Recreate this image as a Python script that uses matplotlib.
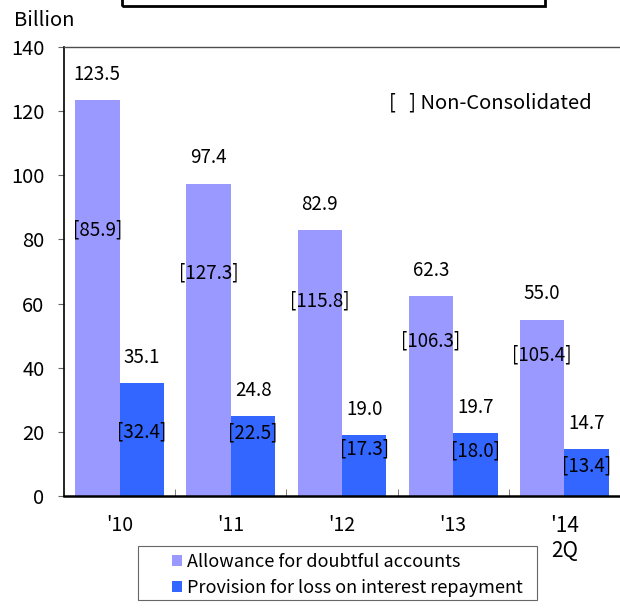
import matplotlib

matplotlib.use("Agg")

import matplotlib.pyplot as plt
from matplotlib.patches import Rectangle
import numpy as np

plt.rcParams["font.family"] = ["Noto Sans CJK JP", "DejaVu Sans"]

# 数据：合并口径与单体口径（括号内）
years = ["'10", "'11", "'12", "'13", "'14\n2Q"]
allowance = [123.5, 97.4, 82.9, 62.3, 55.0]
provision = [35.1, 24.8, 19.0, 19.7, 14.7]
allowance_nc = [85.9, 127.3, 115.8, 106.3, 105.4]
provision_nc = [32.4, 22.5, 17.3, 18.0, 13.4]

# 括号标签放在柱顶下方的距离（数据单位）
allowance_nc_drop = [40.5, 28.0, 22.0, 14.0, 11.0]
provision_nc_drop = [15.0, 5.3, 4.5, 5.8, 5.4]

LIGHT = "#9999FF"
DARK = "#3366FF"
FS = 13.5

fig = plt.figure(figsize=(6.2, 6.08), dpi=100)
ax = fig.add_axes([64 / 620, 112 / 608, 556 / 620, 449 / 608])

x = np.arange(len(years))
width = 0.4
ax.bar(x - width / 2, allowance, width, color=LIGHT, label="Allowance for doubtful accounts")
ax.bar(x + width / 2, provision, width, color=DARK, label="Provision for loss on interest repayment")

for i in range(len(years)):
    ax.text(x[i] - width / 2, allowance[i] + 8.0, f"{allowance[i]:.1f}", ha="center", va="center", fontsize=FS)
    ax.text(x[i] + width / 2, provision[i] + 8.0, f"{provision[i]:.1f}", ha="center", va="center", fontsize=FS)
    ax.text(x[i] - width / 2, allowance[i] - allowance_nc_drop[i], f"[{allowance_nc[i]:.1f}]",
            ha="center", va="center", fontsize=FS)
    ax.text(x[i] + width / 2, provision[i] - provision_nc_drop[i], f"[{provision_nc[i]:.1f}]",
            ha="center", va="center", fontsize=FS)

ax.text(0.585, 0.875, "[   ] Non-Consolidated", transform=ax.transAxes, ha="left", va="center", fontsize=14.5)

ax.set_xlim(-0.5, len(years) - 0.5)
ax.set_ylim(0, 140)
ax.set_yticks(np.arange(0, 141, 20))
ax.tick_params(axis="y", direction="out", length=4, color="0.4", labelsize=14.5, pad=10)
ax.set_xticks(x)
ax.set_xticklabels(years, fontsize=14)
ax.tick_params(axis="x", length=0, pad=14)
ax.set_xticks(np.arange(0.5, len(years) - 1, 1.0), minor=True)
ax.tick_params(axis="x", which="minor", direction="in", length=5, color="0.4")

for lab in ax.get_xticklabels():
    if "\n" in lab.get_text():
        lab.set_linespacing(1.15)
        lab.set_fontsize(15)

ax.spines["right"].set_visible(False)
ax.spines["top"].set_color("0.3")
ax.spines["top"].set_linewidth(1.0)
ax.spines["left"].set_linewidth(1.2)
ax.spines["bottom"].set_linewidth(1.8)

fig.text(14 / 620, 1 - 20 / 608, "Billion", ha="left", va="center", fontsize=14.5)

fig.add_artist(Rectangle((122 / 620, 1 - 6 / 608), 423 / 620, 0.05, transform=fig.transFigure,
                         fill=False, edgecolor="black", linewidth=2))

# 图例：无边框图例 + 单独绘制的外框
fig.add_artist(Rectangle((138 / 620, 1 - 600 / 608), 399 / 620, 54 / 608, transform=fig.transFigure,
                         fill=False, edgecolor="0.4", linewidth=0.8))
fig.legend(loc="upper left", bbox_to_anchor=(172 / 620, 1 - 553 / 608), fontsize=13,
           frameon=False, handlelength=0.55, handleheight=0.55, handletextpad=0.3,
           borderpad=0.0, labelspacing=0.45, borderaxespad=0)

fig.savefig("out.png", dpi=100)
